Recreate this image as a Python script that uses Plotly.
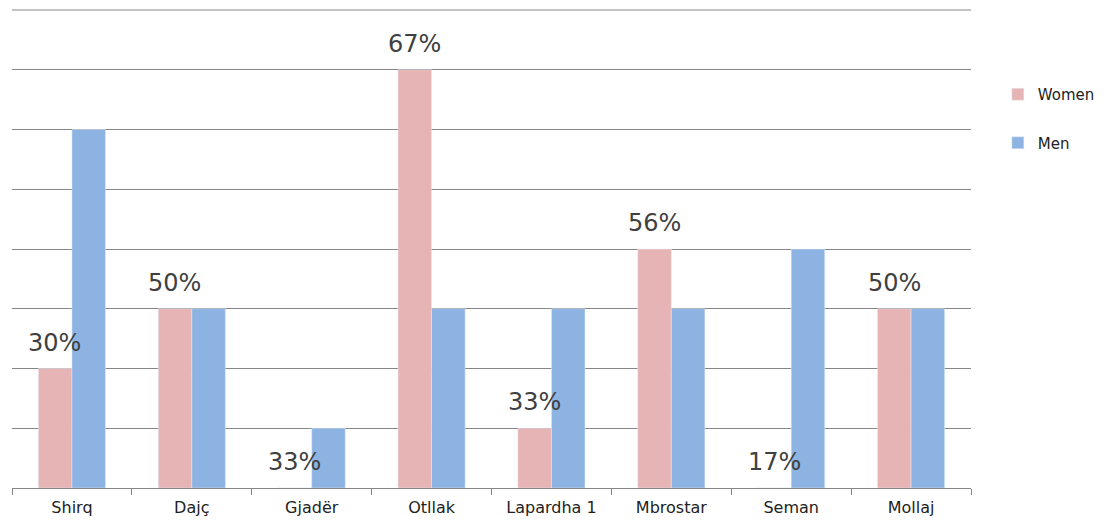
import plotly.graph_objects as go

categories = ["Shirq", "Dajç", "Gjadër", "Otllak", "Lapardha 1", "Mbrostar", "Seman", "Mollaj"]
women = [2, 3, 0, 7, 1, 4, 0, 3]
men = [6, 3, 1, 3, 3, 3, 4, 3]
labels = ["30%", "50%", "33%", "67%", "33%", "56%", "17%", "50%"]

FONT = "DejaVu Sans"
GRID = "#868686"

fig = go.Figure()
fig.add_trace(go.Bar(
    x=categories, y=women, name="Women", marker_color="#E6B4B4",
    legendgroup="w",
))
fig.add_trace(go.Bar(
    x=categories, y=men, name="Men", marker_color="#8DB3E2",
    legendgroup="m",
))

# value labels above the Women bars
for c, v, t in zip(categories, women, labels):
    fig.add_annotation(
        x=c, y=v, xref="x", yref="y", text=t, showarrow=False,
        xanchor="center", yanchor="bottom", xshift=-17, yshift=10,
        font=dict(family=FONT, size=24, color="#404040"),
    )

# top gridline (plotly omits the grid line on the plot edge)
fig.add_shape(type="line", xref="x domain", yref="y domain",
              x0=0, x1=1, y0=1, y1=1, line=dict(color=GRID, width=1), layer="below")

fig.update_layout(
    width=1108, height=526,
    margin=dict(l=4, r=145, t=2, b=46),
    plot_bgcolor="white", paper_bgcolor="white",
    barmode="group", bargap=0.44, bargroupgap=0,
    font=dict(family=FONT, color="#222222"),
    legend=dict(x=1.028, y=0.773, xanchor="left", yanchor="middle",
                font=dict(size=15, color="#222222", family=FONT), tracegroupgap=26,
                itemwidth=30),
    showlegend=True,
)
fig.update_xaxes(
    showline=True, linecolor=GRID, linewidth=1,
    ticks="outside", tickson="boundaries", ticklen=6, tickcolor=GRID,
    ticklabelstandoff=5,
    tickfont=dict(size=16, color="#222222", family=FONT), showgrid=False,
)
fig.update_yaxes(
    range=[0, 8], dtick=1, showticklabels=False, showgrid=True,
    gridcolor=GRID, gridwidth=1, zeroline=False,
)

fig.write_html("out.html")
